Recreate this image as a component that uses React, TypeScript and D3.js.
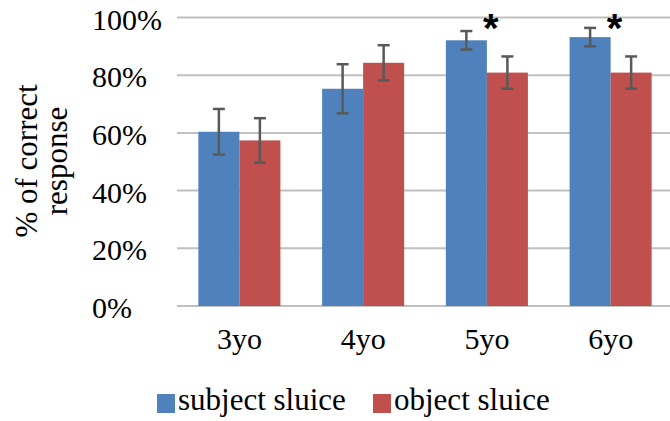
import React from 'react';
import * as d3 from 'd3';

const ages = ['3yo', '4yo', '5yo', '6yo'];
const seriesNames = ['subject sluice', 'object sluice'];
const subjectVals = [60.4, 75.3, 92.1, 93.2];
const objectVals = [57.4, 84.3, 80.9, 80.9];
const subjectErr = [7.9, 8.5, 3.2, 3.2];
const objectErr = [7.7, 6.1, 5.6, 5.6];
const starred = ['5yo', '6yo'];
const yTicks = [0, 20, 40, 60, 80, 100];

const colors = ['#4f81bd', '#c0504d'];
const W = 670;
const H = 421;
const SERIF = 'Times';

const x = d3.scaleBand().domain(ages).range([177.5, 672.5])
  .paddingInner(0.337).paddingOuter(0.1685);
const x1 = d3.scaleBand().domain(seriesNames).range([0, x.bandwidth()]);
const y = d3.scaleLinear().domain([0, 100]).range([306, 17.5]);

const rows = ages.map((a, i) => ({
  age: a,
  vals: [
    { s: seriesNames[0], v: subjectVals[i], e: subjectErr[i], c: colors[0] },
    { s: seriesNames[1], v: objectVals[i], e: objectErr[i], c: colors[1] },
  ],
}));

const App = () => {
  const legX = [157, 373];
  return (
    <svg width={W} height={H} style={{ position: 'absolute', left: 0, top: 0 }}>
      {/* gridlines */}
      {yTicks.map(t => (
        <line key={t} x1={177} x2={W} y1={y(t)} y2={y(t)} stroke="#c0c0c0" strokeWidth={2} />
      ))}
      {/* y tick labels */}
      {yTicks.map(t => (
        <text key={t} x={92} y={y(t) + 12} fontSize={30} style={{ fontFamily: SERIF }}>{t}%</text>
      ))}
      {/* bars + error bars */}
      {rows.map(r => (
        <g key={r.age} transform={`translate(${x(r.age)},0)`}>
          {r.vals.map(d => (
            <rect key={d.s} x={x1(d.s)} width={x1.bandwidth()} y={y(d.v)}
              height={y(0) - y(d.v)} fill={d.c} />
          ))}
          {r.vals.map(d => {
            const cx = x1(d.s)! + x1.bandwidth() / 2;
            const hi = y(d.v + d.e);
            const lo = y(d.v - d.e);
            return (
              <g key={d.s} stroke="#595959" strokeWidth={2.5}>
                <line x1={cx} x2={cx} y1={hi} y2={lo} />
                <line x1={cx - 6} x2={cx + 6} y1={hi} y2={hi} />
                <line x1={cx - 6} x2={cx + 6} y1={lo} y2={lo} />
              </g>
            );
          })}
        </g>
      ))}
      {/* significance stars */}
      {starred.map(a => (
        <text key={a} x={x(a)! + x.bandwidth() / 2 + 4} y={42} textAnchor="middle"
          fontSize={40} fontWeight="bold" style={{ fontFamily: 'Arial' }}>*</text>
      ))}
      {/* x labels */}
      {ages.map(a => (
        <text key={a} x={x(a)! + x.bandwidth() / 2} y={349} textAnchor="middle"
          fontSize={30} style={{ fontFamily: SERIF }}>{a}</text>
      ))}
      {/* y title */}
      <text transform="translate(0,161) rotate(-90)" textAnchor="middle" fontSize={31}
        style={{ fontFamily: SERIF }}>
        <tspan x={0} y={37}>% of correct</tspan>
        <tspan x={0} y={67}>response</tspan>
      </text>
      {/* legend */}
      {seriesNames.map((s, i) => (
        <g key={s} transform={`translate(${legX[i]},394)`}>
          <rect width={18} height={19} fill={colors[i]} />
          <text x={21} y={16} fontSize={31} style={{ fontFamily: SERIF }}>{s}</text>
        </g>
      ))}
    </svg>
  );
};

export default App;
